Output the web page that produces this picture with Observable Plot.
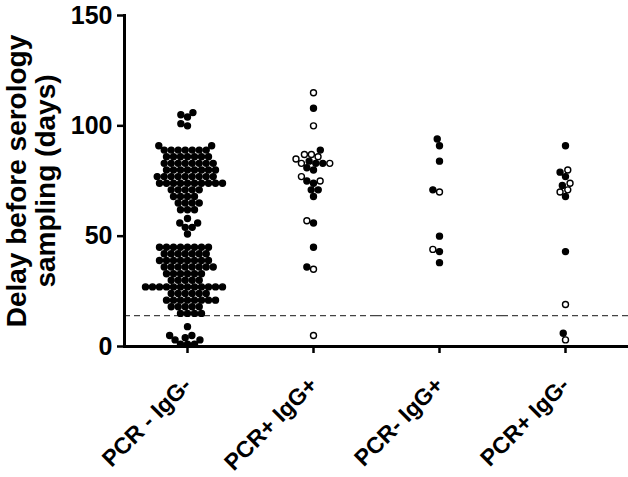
<!DOCTYPE html>
<html>
<head>
<meta charset="utf-8">
<script src="https://cdn.jsdelivr.net/npm/d3@7"></script>
<script src="https://cdn.jsdelivr.net/npm/@observablehq/plot@0.6"></script>
<style>
  html, body { margin: 0; padding: 0; background: #fff; }
</style>
</head>
<body>
<div id="chart"></div>
<script>
const categories = ["PCR - IgG-", "PCR+ IgG+", "PCR- IgG+", "PCR+ IgG-"];

// filled (black) dots per category
const filledG1 = [106,105,104,101,100,
  91,91,
  89,89,89,89,89,89,89,
  86,86,86,86,86,86,86,
  83,83,83,83,83,83,83,83,
  80,80,80,80,80,80,80,80,
  77,77,77,77,77,77,77,77,77,
  74,74,74,74,74,74,74,74,74,74,
  71,71,71,71,71,
  68,68,68,68,
  65,65,65,65,
  62,62,62,
  58,56,56,54,54,51,
  45,45,45,45,45,45,45,45,
  42,42,42,42,42,42,42,
  39,39,39,39,39,39,39,39,
  36,36,36,36,36,36,36,36,
  33,33,33,33,33,33,
  30,30,30,30,30,
  27,27,27,27,27,27,27,27,27,27,27,27,
  24,24,24,24,24,24,
  21,21,21,21,21,21,21,21,
  18,18,18,18,18,
  15,15,15,15,
  9,5,5,4,3,3,1,1,1];
const filledG2 = [108,89,84,83,80,81,83,75,74,71,71,68,56,45,36];
const filledG3 = [94,91,84,71,50,43,38];
const filledG4 = [91,79,77,73,68,43,6];

// open (white) circles per category
const openG1 = [];
const openG2 = [115,100,87,83,86,85,87,83,77,75,57,35,5];
const openG3 = [70,44];
const openG4 = [80,74,71,70,19,3];

const filledValues = [filledG1, filledG2, filledG3, filledG4];
const openValues = [openG1, openG2, openG3, openG4];

const yTicks = [0, 50, 100, 150];
const threshold = 14;
const yTitle = "Delay before serology\nsampling (days)";

const rows = [];
categories.forEach((c, i) => {
  filledValues[i].forEach(v => rows.push({group: c, value: v, open: false}));
  openValues[i].forEach(v => rows.push({group: c, value: v, open: true}));
});
rows.sort((a, b) => a.value - b.value);

const chart = Plot.plot({
  width: 628,
  height: 477,
  marginLeft: 123,
  marginRight: 0,
  marginTop: 15,
  marginBottom: 131,
  style: {fontFamily: "'Liberation Sans', Arial, sans-serif", fontWeight: "bold", color: "black", background: "white"},
  fx: {domain: categories, padding: 0, axis: null, label: null},
  y: {domain: [0, 150], axis: null},
  color: {type: "identity"},
  marks: [
    Plot.ruleY([threshold], {stroke: "#444", strokeWidth: 1.3, strokeDasharray: "6,4"}),
    Plot.ruleY([0], {stroke: "black", strokeWidth: 3}),
    Plot.frame({anchor: "left", facetAnchor: "left", stroke: "black", strokeWidth: 3}),
    Plot.axisY({ticks: yTicks, tickSize: 7, tickPadding: 5, fontSize: 25, fontWeight: "bold", strokeWidth: 2.5, label: null}),
    Plot.axisFx({anchor: "bottom", tickRotate: -45, tickSize: 7, tickPadding: 28, fontSize: 23, fontWeight: "bold", strokeWidth: 2.5, label: null}),
    Plot.dot(rows, Plot.dodgeX("middle", {
      fx: "group", y: "value", r: 3, padding: 0.6,
      fill: d => d.open ? "white" : "black", stroke: "black", strokeWidth: 1.4
    })),
    Plot.text([yTitle], {
      fx: () => categories[0], frameAnchor: "left", textAnchor: "middle", lineAnchor: "middle",
      rotate: -90, dx: -93,
      text: d => d, fontSize: 28, fontWeight: "bold", lineHeight: 1.02, fill: "black"
    })
  ]
});
document.getElementById("chart").appendChild(chart);
</script>
</body>
</html>
